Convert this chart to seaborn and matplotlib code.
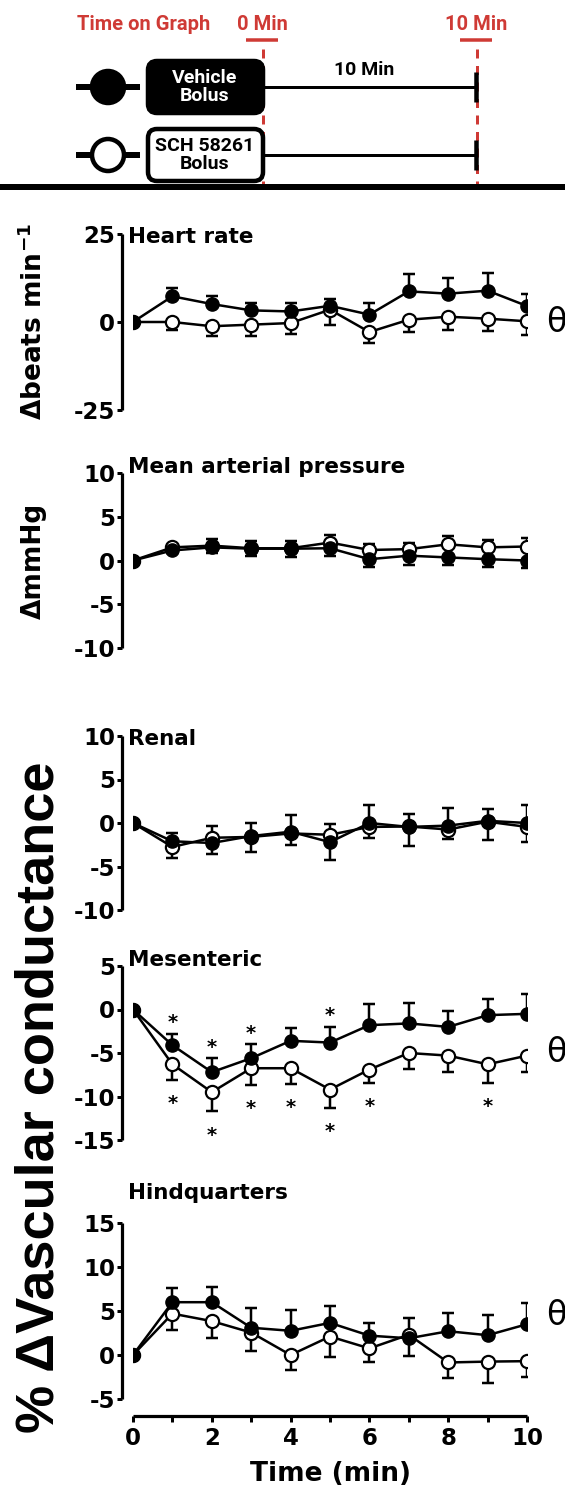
import numpy as np
import pandas as pd
import matplotlib
matplotlib.use("Agg")
import matplotlib.pyplot as plt
import seaborn as sns
from matplotlib.patches import FancyBboxPatch, Circle

# ---------------------------------------------------------------- data
time_min = list(range(11))

hr_vehicle = [0, 7.3, 5.1, 3.3, 3.0, 4.6, 2.1, 8.7, 8.05, 8.9, 4.55]
hr_vehicle_sem = [0, 2.35, 2.4, 2.1, 2.4, 2.0, 3.2, 5.0, 4.45, 5.0, 3.3]
hr_sch = [0, 0.0, -1.2, -0.75, -0.3, 3.5, -2.85, 0.65, 1.5, 0.95, 0.2]
hr_sch_sem = [0, 2.2, 2.65, 3.1, 3.1, 4.25, 3.1, 3.6, 3.7, 3.4, 3.95]

map_vehicle = [0, 1.15, 1.5, 1.35, 1.35, 1.4, 0.15, 0.55, 0.35, 0.15, 0.0]
map_vehicle_sem = [0, 0.3, 0.65, 0.8, 0.9, 0.85, 0.9, 1.1, 0.85, 0.9, 0.85]
map_sch = [0, 1.5, 1.7, 1.4, 1.4, 2.05, 1.2, 1.3, 1.85, 1.5, 1.6]
map_sch_sem = [0, 0.3, 0.8, 0.8, 0.8, 0.9, 0.65, 0.7, 1.0, 0.85, 0.95]

renal_vehicle = [0, -2.1, -2.3, -1.5, -1.0, -2.2, 0.0, -0.45, -0.3, 0.25, 0.0]
renal_vehicle_sem = [0, 0.9, 1.25, 1.45, 1.95, 2.1, 2.1, 2.15, 2.0, 1.4, 2.1]
renal_sch = [0, -2.75, -1.7, -1.6, -1.2, -1.35, -0.45, -0.4, -0.75, 0.15, -0.45]
renal_sch_sem = [0, 1.25, 1.3, 1.7, 1.3, 1.25, 1.25, 1.45, 1.1, 2.05, 1.75]

mes_vehicle = [0, -4.1, -7.2, -5.6, -3.6, -3.8, -1.8, -1.6, -2.0, -0.65, -0.5]
mes_vehicle_sem = [0, 1.3, 1.6, 1.6, 1.5, 1.8, 2.4, 2.4, 1.8, 1.8, 2.3]
mes_sch = [0, -6.3, -9.5, -6.75, -6.75, -9.2, -6.9, -5.0, -5.3, -6.3, -5.3]
mes_sch_sem = [0, 1.8, 2.2, 1.9, 1.8, 2.1, 1.5, 1.8, 1.9, 2.1, 1.9]

hq_vehicle = [0, 6.0, 6.0, 3.1, 2.75, 3.65, 2.2, 1.9, 2.7, 2.25, 3.5]
hq_vehicle_sem = [0, 1.6, 1.75, 2.25, 2.35, 1.95, 1.45, 2.0, 2.1, 2.25, 2.4]
hq_sch = [0, 4.7, 3.85, 2.55, 0.0, 2.1, 0.75, 2.3, -0.85, -0.75, -0.7]
hq_sch_sem = [0, 1.85, 1.9, 2.1, 1.75, 2.35, 1.6, 1.85, 1.8, 2.45, 1.8]

# time points with * (vs baseline) in the mesenteric bed
mes_sig_vehicle = [1, 2, 3, 5]
mes_sig_sch = [1, 2, 3, 4, 5, 6, 9]

titles = ["Heart rate", "Mean arterial pressure", "Renal", "Mesenteric", "Hindquarters"]
ylims = [(-25, 25), (-10, 10), (-10, 10), (-15, 5), (-5, 15)]
yticks = [[-25, 0, 25], [-10, -5, 0, 5, 10], [-10, -5, 0, 5, 10],
          [-15, -10, -5, 0, 5], [-5, 0, 5, 10, 15]]
xtick_labels = ["0", "", "2", "", "4", "", "6", "", "8", "", "10"]

# ---------------------------------------------------------------- style
sns.set_style("ticks")
plt.rcParams["font.family"] = ["DejaVu Sans"]
plt.rcParams["font.weight"] = "bold"
plt.rcParams["mathtext.default"] = "bf"
plt.rcParams["axes.unicode_minus"] = False
for key in ["text.color", "axes.labelcolor", "xtick.color", "ytick.color",
            "axes.edgecolor", "xtick.labelcolor", "ytick.labelcolor"]:
    plt.rcParams[key] = "black"

W, H = 565, 1488
fig = plt.figure(figsize=(W / 100, H / 100), dpi=100)


def fx(x):
    return x / W


def fy(y):
    return 1 - y / H


RED = "#cf3a35"
DIAG_FONT = ["Roboto", "DejaVu Sans"]

# ---------------------------------------------------------------- protocol diagram
ad = fig.add_axes([0, fy(200), 1, 200 / H])
ad.set_xlim(0, W)
ad.set_ylim(200, 0)
ad.axis("off")
PT = 0.72  # points per pixel

ad.text(144, 25, "Time on Graph", color=RED, fontsize=14.5, family=DIAG_FONT,
        fontweight="bold", ha="center", va="center")
for xc, lab in [(262, "0 Min"), (476, "10 Min")]:
    ad.text(xc, 25, lab, color=RED, fontsize=14.5, family=DIAG_FONT,
            fontweight="bold", ha="center", va="center")
    ad.plot([xc - 16, xc + 16], [40, 40], color=RED, lw=3.5 * PT,
            solid_capstyle="butt")
    ad.plot([xc + 1, xc + 1], [49, 186], color=RED, lw=3 * PT,
            dashes=(3, 2.5))

rows = [(87, "black", "white", "Vehicle\nBolus"),
        (155, "white", "black", "SCH 58261\nBolus")]
for yc, face, txt_col, label in rows:
    ad.plot([76, 140], [yc, yc], color="black", lw=6 * PT,
            solid_capstyle="butt", zorder=2)
    ad.add_patch(Circle((108, yc), 16, facecolor=face, edgecolor="black",
                        lw=4.5 * PT, zorder=3))
    ad.add_patch(FancyBboxPatch((148, yc - 26), 115, 52,
                                boxstyle="round,pad=0,rounding_size=9",
                                facecolor=face, edgecolor="black",
                                lw=4.5 * PT, zorder=3))
    ad.text(205, yc, label, color=txt_col, fontsize=14, family=DIAG_FONT,
            fontweight="bold", ha="center", va="center", linespacing=1.05,
            zorder=4)
    ad.plot([263, 476], [yc, yc], color="black", lw=3 * PT, zorder=2)
    ad.plot([476, 476], [yc - 15, yc + 15], color="black", lw=4.5 * PT,
            solid_capstyle="butt", zorder=2)

ad.text(364, 70, "10 Min", color="black", fontsize=14, family=DIAG_FONT,
        fontweight="bold", ha="center", va="center")
ad.plot([0, W], [187, 187], color="black", lw=6 * PT, solid_capstyle="butt")

# ---------------------------------------------------------------- panels
panels = [
    (hr_vehicle, hr_vehicle_sem, hr_sch, hr_sch_sem),
    (map_vehicle, map_vehicle_sem, map_sch, map_sch_sem),
    (renal_vehicle, renal_vehicle_sem, renal_sch, renal_sch_sem),
    (mes_vehicle, mes_vehicle_sem, mes_sch, mes_sch_sem),
    (hq_vehicle, hq_vehicle_sem, hq_sch, hq_sch_sem),
]
# vertical extent of each plotting area (pixels from top)
frames = [(234, 410), (473, 648), (736, 910), (966, 1140), (1223, 1399)]
title_baselines = [243, 473, 745, 966, 1199]
theta_levels = {0: 0.0, 3: -5.0, 4: 4.5}

X0, X1 = 133, 527
LW = 2.5 * PT
t = np.array(time_min)

for i, (veh, veh_sem, sch, sch_sem) in enumerate(panels):
    top, bot = frames[i]
    ax = fig.add_axes([fx(X0), fy(bot), (X1 - X0) / W, (bot - top) / H])
    veh = np.array(veh)
    sch = np.array(sch)
    veh_sem = np.array(veh_sem)
    sch_sem = np.array(sch_sem)
    veh_up = veh >= sch

    # one-sided SEM bars: the upper curve points up, the lower one down
    ax.errorbar(t, veh, yerr=[np.where(veh_up, 0, veh_sem), np.where(veh_up, veh_sem, 0)],
                fmt="none", ecolor="black", elinewidth=LW, capsize=4,
                capthick=LW, zorder=2)
    ax.errorbar(t, sch, yerr=[np.where(veh_up, sch_sem, 0), np.where(veh_up, 0, sch_sem)],
                fmt="none", ecolor="black", elinewidth=LW, capsize=4,
                capthick=LW, zorder=2)

    df = pd.DataFrame({
        "time": list(t) * 2,
        "value": list(veh) + list(sch),
        "group": ["Vehicle"] * len(t) + ["SCH 58261"] * len(t),
    })
    sns.lineplot(data=df[df.group == "SCH 58261"], x="time", y="value",
                 color="black", marker="o", markersize=9.5,
                 markerfacecolor="white", markeredgecolor="black",
                 markeredgewidth=2.2 * PT, linewidth=LW, ax=ax,
                 legend=False, zorder=3)
    sns.lineplot(data=df[df.group == "Vehicle"], x="time", y="value",
                 color="black", marker="o", markersize=9.5,
                 markerfacecolor="black", markeredgecolor="black",
                 markeredgewidth=1.0, linewidth=LW, ax=ax, legend=False,
                 zorder=4)

    ax.set_xlim(0, 10)
    ax.set_ylim(*ylims[i])
    ax.set_yticks(yticks[i])
    ax.set_xlabel("")
    ax.set_ylabel("")
    ax.patch.set_alpha(0)
    for s in ["top", "right"]:
        ax.spines[s].set_visible(False)
    ax.spines["left"].set_position(("outward", 11 * PT))
    ax.spines["left"].set_linewidth(3.2 * PT)
    ax.tick_params(axis="y", length=5.5 * PT, width=3 * PT, labelsize=16.5,
                   pad=1, direction="out")
    for lab in ax.get_yticklabels():
        lab.set_fontweight("bold")

    if i == 4:
        ax.spines["bottom"].set_position(("outward", 17 * PT))
        ax.spines["bottom"].set_linewidth(3.2 * PT)
        ax.set_xticks(time_min)
        ax.set_xticklabels(xtick_labels, fontsize=16.5, fontweight="bold")
        ax.tick_params(axis="x", length=5.5 * PT, width=3 * PT, pad=4,
                       direction="out")
    else:
        ax.spines["bottom"].set_visible(False)
        ax.set_xticks([])

    for sp in ax.spines.values():
        sp.set_capstyle("butt")

    fig.text(fx(128), fy(title_baselines[i]), titles[i], fontsize=15.5,
             fontweight="bold", ha="left", va="baseline")

    if i in theta_levels:
        ax.text(10.75, theta_levels[i], "θ", fontsize=24, fontweight="normal",
                ha="center", va="center", clip_on=False)

    if i == 3:
        for k in mes_sig_vehicle:
            ax.annotate("*", (t[k], veh[k] + veh_sem[k]), xytext=(0, 11),
                        textcoords="offset pixels", ha="center", va="center",
                        fontsize=14, fontweight="bold")
        for k in mes_sig_sch:
            ax.annotate("*", (t[k], sch[k] - sch_sem[k]), xytext=(0, -24),
                        textcoords="offset pixels", ha="center", va="center",
                        fontsize=14, fontweight="bold")

# ---------------------------------------------------------------- axis labels
fig.text(fx(34), fy(322), "Δbeats min$^{-1}$", rotation=90, fontsize=19,
         fontweight="bold", ha="center", va="center")
fig.text(fx(34), fy(561), "ΔmmHg", rotation=90, fontsize=19,
         fontweight="bold", ha="center", va="center")
fig.text(fx(40), fy(1097), "% ΔVascular conductance", rotation=90,
         fontsize=39, fontweight="bold", family=["Liberation Sans", "DejaVu Sans"],
         ha="center", va="center")
fig.text(fx(330), fy(1474), "Time (min)", fontsize=19, fontweight="bold",
         ha="center", va="center")

fig.savefig("out.png", dpi=100)
